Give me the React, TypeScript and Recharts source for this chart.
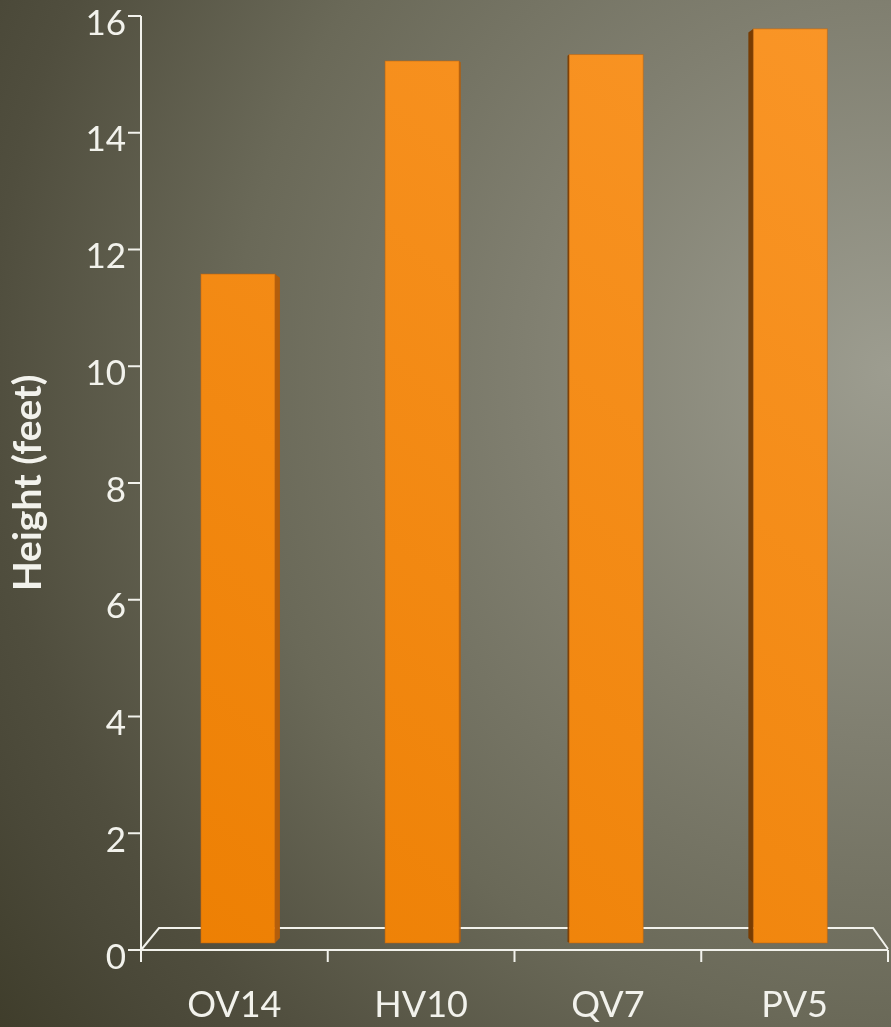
import React from 'react'
import { BarChart, Bar, XAxis, YAxis, Customized } from 'recharts'

const CATEGORIES = ['OV14', 'HV10', 'QV7', 'PV5']
const HEIGHTS = [11.46, 15.11, 15.22, 15.66]
const Y_TICKS = [0, 2, 4, 6, 8, 10, 12, 14, 16]

const W = 891
const H = 1027
const MARGIN = { top: 16, right: 3, left: 0, bottom: 0 }
const Y_AXIS_W = 141
const X_AXIS_H = 77

const PLOT_LEFT = MARGIN.left + Y_AXIS_W
const PLOT_RIGHT = W - MARGIN.right
const PLOT_TOP = MARGIN.top
const PLOT_BOTTOM = H - MARGIN.bottom - X_AXIS_H
const BAND = (PLOT_RIGHT - PLOT_LEFT) / CATEGORIES.length

// fake 3d: columns sit a little back on the floor
const VP_X = (PLOT_LEFT + PLOT_RIGHT) / 2
const DEPTH_K = 0.986
const LIFT = 7
const SIDE_K = 0.018
const FLOOR_DEPTH = 22

const FONT = "Lato, 'Open Sans', sans-serif"
const WHITE = '#f2f2ec'

const data = CATEGORIES.map((name, i) => ({ name, height: HEIGHTS[i] }))

const Column = (props: any) => {
  const { x, y, width, height } = props
  const c = VP_X + (x + width / 2 - VP_X) * DEPTH_K
  const left = c - width / 2
  const right = c + width / 2
  const top = y - LIFT
  const bottom = y + height - LIFT
  const s = -(c - VP_X) * SIDE_K
  const a = Math.abs(s)
  let side = null
  if (a > 0.5) {
    const edge = s > 0 ? right : left
    const out = s > 0 ? right + a : left - a
    side = (
      <polygon
        points={`${edge},${top} ${out},${top + a * 0.75} ${out},${bottom - a} ${edge},${bottom}`}
        fill={s > 0 ? '#b35e0c' : '#783c02'}
      />
    )
  }
  return (
    <g>
      {side}
      <rect
        x={left}
        y={top}
        width={width}
        height={bottom - top}
        fill="url(#columnFace)"
        stroke="#c0650f"
        strokeOpacity={0.55}
        strokeWidth={1}
      />
    </g>
  )
}

const Floor = () => (
  <g stroke={WHITE} strokeWidth={2} fill="none">
    <polyline
      points={`${PLOT_LEFT},${PLOT_BOTTOM} ${PLOT_LEFT + 18},${PLOT_BOTTOM - FLOOR_DEPTH} ${PLOT_RIGHT - 15},${PLOT_BOTTOM - FLOOR_DEPTH} ${PLOT_RIGHT},${PLOT_BOTTOM - 1}`}
    />
  </g>
)

const YTick = (props: any) => {
  const { x, y, payload } = props
  return (
    <text x={x} y={y + 18.5} textAnchor="end" fill={WHITE} fontSize={35} fontFamily={FONT}>
      {payload.value}
    </text>
  )
}

const XTick = (props: any) => {
  const { x, payload, index } = props
  const edge = x - BAND / 2
  return (
    <g>
      <line x1={edge} y1={PLOT_BOTTOM} x2={edge} y2={PLOT_BOTTOM + 12} stroke={WHITE} strokeWidth={2} />
      {index === CATEGORIES.length - 1 && (
        <line x1={x + BAND / 2} y1={PLOT_BOTTOM} x2={x + BAND / 2} y2={PLOT_BOTTOM + 12} stroke={WHITE} strokeWidth={2} />
      )}
      <text x={x} y={PLOT_BOTTOM + 67} textAnchor="middle" fill={WHITE} fontSize={36} fontFamily={FONT}>
        {payload.value}
      </text>
    </g>
  )
}

export default function App() {
  const titleX = 41
  const titleY = (PLOT_TOP + PLOT_BOTTOM) / 2
  return (
    <div
      style={{
        position: 'fixed',
        left: 0,
        top: 0,
        width: W,
        height: H,
        background:
          'radial-gradient(circle 1110px at 891px 370px, #9d9d90 0%, #807f70 33%, #6a6958 59%, #504e3e 81%, #4a4838 88%, #3f3d2b 100%)',
      }}
    >
      <BarChart width={W} height={H} data={data} margin={MARGIN}>
        <defs>
          <linearGradient id="columnFace" gradientUnits="userSpaceOnUse" x1={PLOT_LEFT} y1={PLOT_BOTTOM} x2={PLOT_RIGHT} y2={PLOT_TOP}>
            <stop offset="0%" stopColor="#ed7f02" />
            <stop offset="100%" stopColor="#fa9628" />
          </linearGradient>
        </defs>
        <Customized component={<Floor />} />
        <XAxis
          dataKey="name"
          height={X_AXIS_H}
          interval={0}
          axisLine={{ stroke: WHITE, strokeWidth: 2 }}
          tickLine={false}
          tick={<XTick />}
        />
        <YAxis
          width={Y_AXIS_W}
          domain={[0, 16]}
          ticks={Y_TICKS}
          interval={0}
          tickSize={13}
          axisLine={{ stroke: WHITE, strokeWidth: 2 }}
          tickLine={{ stroke: WHITE, strokeWidth: 2 }}
          tick={<YTick />}
          label={{
            content: () => (
              <text
                x={titleX}
                y={titleY}
                transform={`rotate(-90, ${titleX}, ${titleY})`}
                textAnchor="middle"
                fill={WHITE}
                fontSize={39}
                fontWeight="bold"
                fontFamily={FONT}
              >
                Height (feet)
              </text>
            ),
          }}
        />
        <Bar dataKey="height" barSize={74} shape={<Column />} isAnimationActive={false} />
      </BarChart>
    </div>
  )
}
